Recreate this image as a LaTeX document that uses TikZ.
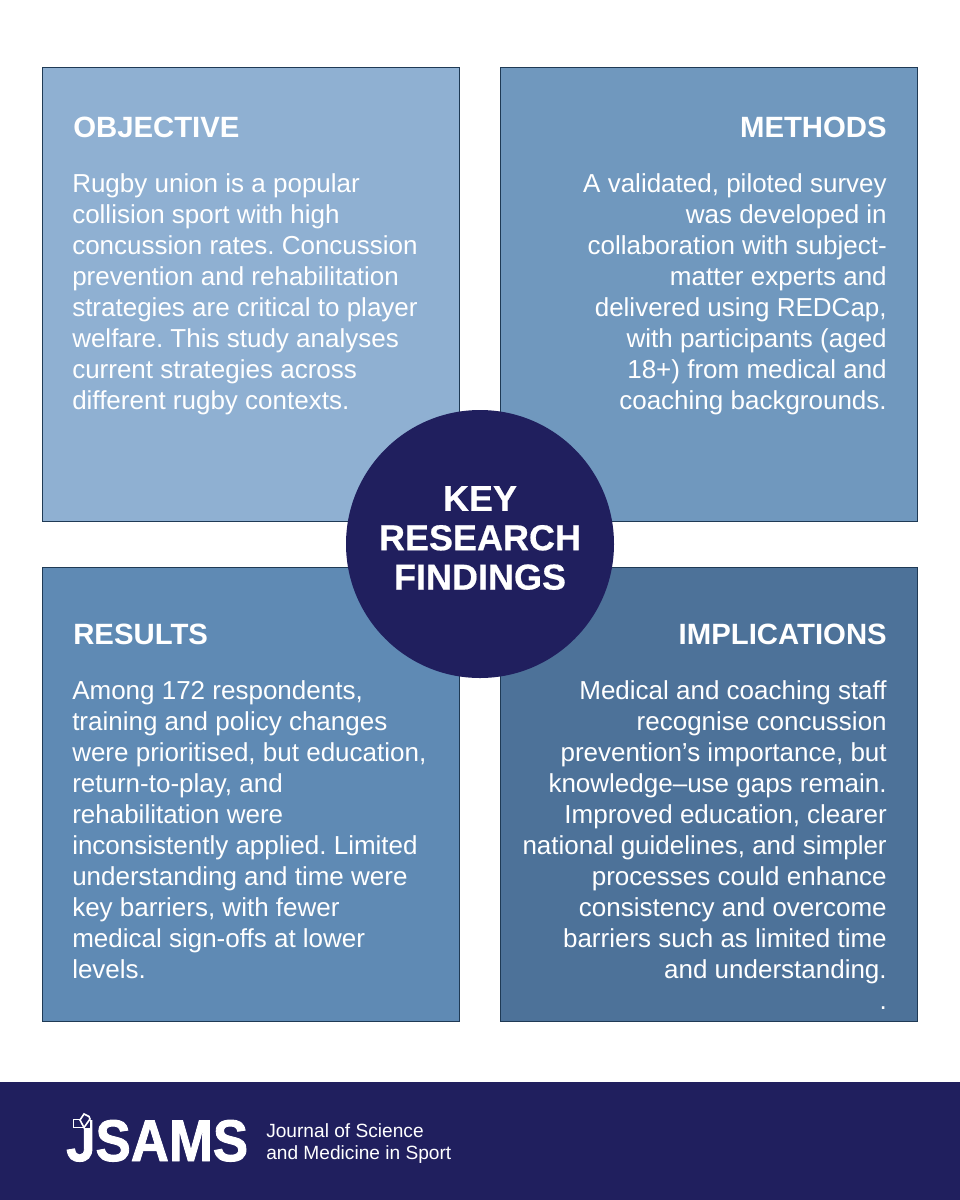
\documentclass[tikz,border=0pt]{standalone}
\usepackage{fontspec}
\setmainfont{Liberation Sans}
\newfontface\logofont{Liberation Sans Bold}[FakeBold=1.6]
\newfontface\keyfont{Liberation Sans Bold}[FakeBold=.5]
\usetikzlibrary{calc}
\definecolor{navy}{HTML}{201F5E}
\definecolor{objcol}{HTML}{8FB0D2}
\definecolor{metcol}{HTML}{7098BE}
\definecolor{rescol}{HTML}{5F8AB4}
\definecolor{impcol}{HTML}{4D7299}
\definecolor{edgecol}{HTML}{1F3A55}
\newcommand{\bodysize}{\fontsize{19.5}{23.25}\selectfont\frenchspacing}
\begin{document}
\begin{tikzpicture}[x=.75pt, y=-.75pt,
 panel/.style={draw=edgecol, line width=.6pt},
 head/.style={text=white, font=\fontsize{22}{26}\selectfont\bfseries, inner sep=0},
 bodyl/.style={text=white, font=\bodysize, inner sep=0, align=left, anchor=north west},
 bodyr/.style={text=white, font=\bodysize, inner sep=0, align=right, anchor=north east}]
\useasboundingbox (0,0) rectangle (960,1200);
\fill[white] (0,0) rectangle (960,1200);
% panels
\foreach \nm/\xa/\ya/\xb/\yb/\col in {obj/42.5/67/459.5/521/objcol, met/500.5/67/917/521/metcol, res/42.5/567/459.5/1021/rescol, imp/500.5/567/917/1021/impcol} {
 \draw[panel, fill=\col] (\xa,\ya) rectangle (\xb,\yb);
}
% headings
\node[head, anchor=base west] (objhead) at (73,137) {OBJECTIVE};
\node[head, anchor=base east] (methead) at (887,137) {METHODS};
\node[head, anchor=base west] (reshead) at (73,644) {RESULTS};
\node[head, anchor=base east] (imphead) at (887,644) {IMPLICATIONS};
% texts
\node[bodyl] (objtext) at (72,173) {Rugby union is a popular\\collision sport with high\\concussion rates. Concussion\\prevention and rehabilitation\\strategies are critical to player\\welfare. This study analyses\\current strategies across\\different rugby contexts.};
\node[bodyr] (mettext) at (887,173) {A validated, piloted survey\\was developed in\\collaboration with subject-\\matter experts and\\delivered using REDCap,\\with participants (aged\\18+) from medical and\\coaching backgrounds.};
\node[bodyl] (restext) at (72,680) {Among 172 respondents,\\training and policy changes\\were prioritised, but education,\\return-to-play, and\\rehabilitation were\\inconsistently applied. Limited\\understanding and time were\\key barriers, with fewer\\medical sign-offs at lower\\levels.};
\node[bodyr] (imptext) at (887,680) {Medical and coaching staff\\recognise concussion\\prevention’s importance, but\\knowledge–use gaps remain.\\Improved education, clearer\\national guidelines, and simpler\\processes could enhance\\consistency and overcome\\barriers such as limited time\\and understanding.\\.};
% centre
\node[circle, fill=navy, minimum size=201pt, inner sep=0] (keyfind) at (480,544) {};
\node[text=white, inner sep=0, align=center, font=\fontsize{27}{29.5}\selectfont\keyfont] (keytext) at (480,538) {KEY\\RESEARCH\\FINDINGS};
% footer
\fill[navy] (0,1082) rectangle (960,1200);
\node[text=white, inner sep=0, anchor=base west, xscale=.9, font=\fontsize{44}{44}\selectfont\logofont] (logo) at (66,1161) {JSAMS};
\fill[navy] (70,1112) rectangle (90,1128);
\draw[white, line width=1.2pt] (73.5,1119.5) rectangle (84,1127.5);
\draw[white, line width=1.2pt, fill=navy] (80,1120) -- (84,1114) -- (89,1116.5) -- (90,1119) -- (84,1127.5) -- cycle;
\node[text=white, inner sep=0, anchor=north west, align=left, font=\fontsize{14.35}{16.5}\selectfont] (jname) at (266,1123) {Journal of Science\\and Medicine in Sport};
\end{tikzpicture}
\end{document}
